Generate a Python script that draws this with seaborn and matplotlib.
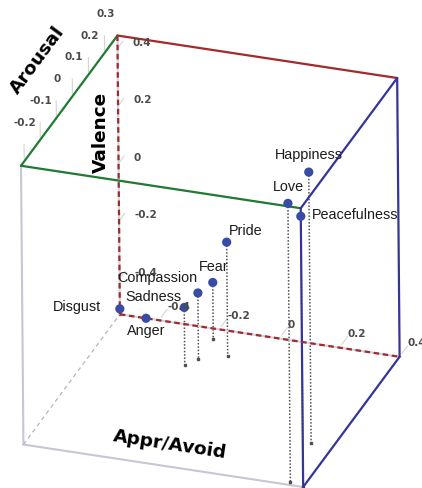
import numpy as np
import matplotlib
matplotlib.use("Agg")
import matplotlib.pyplot as plt
import matplotlib.transforms as mtransforms
import seaborn as sns
from mpl_toolkits.mplot3d import proj3d

# Emotion coordinates in the three-dimensional affect space
emotions = ["Happiness", "Love", "Peacefulness", "Pride", "Fear",
            "Compassion", "Sadness", "Disgust", "Anger"]
appr_avoid = [0.326, 0.351, 0.400, -0.115, -0.196, -0.196, -0.224, -0.530, -0.443]
arousal = [-0.032, -0.208, -0.220, 0.274, 0.336, 0.244, 0.211, 0.380, 0.380]
valence = [0.417, 0.445, 0.417, -0.128, -0.328, -0.295, -0.325, -0.506, -0.525]

appr_ticks = [-0.4, -0.2, 0, 0.2, 0.4]
arousal_ticks = [-0.2, -0.1, 0, 0.1, 0.2, 0.3]
valence_ticks = [-0.4, -0.2, 0, 0.2, 0.4]

# label placement next to each marker: (ha, va, dx_pt, dy_pt)
label_place = {
    "Happiness": ("center", "center", 0.0, 12.2),
    "Love": ("center", "center", 0.5, 12.0),
    "Peacefulness": ("left", "center", 7.7, 0.7),
    "Pride": ("left", "center", 1.9, 8.1),
    "Fear": ("center", "center", 0.7, 11.1),
    "Compassion": ("right", "center", -0.7, 10.8),
    "Sadness": ("right", "center", -1.9, 7.9),
    "Disgust": ("right", "center", -13.2, 1.4),
    "Anger": ("center", "center", 0.0, -8.9),
}

sns.set_theme(style="white")
plt.rcParams["font.family"] = ["Liberation Sans", "DejaVu Sans"]
plt.rcParams["lines.scale_dashes"] = False

W, H = 422, 488
fig = plt.figure(figsize=(W / 100, H / 100), dpi=100)
fig.patch.set_facecolor("white")
ax = fig.add_axes([0, 0, 1, 1], projection="3d", computed_zorder=False)
ax.set_proj_type("ortho")
ax.view_init(elev=27.5, azim=-70.8, roll=0.5)
ax.set_box_aspect((296.1, 297.0, 314.6))
ax.set_axis_off()

x0, x1 = min(appr_avoid), max(appr_avoid)
y0, y1 = min(arousal), max(arousal)
z0, z1 = min(valence), max(valence)

A, B = (x0, y1, z1), (x1, y1, z1)
C, F = (x0, y0, z1), (x1, y0, z1)
D, E = (x0, y1, z0), (x1, y1, z0)
Hc, G = (x0, y0, z0), (x1, y0, z0)


def edge(p, q, **kw):
    ax.plot([p[0], q[0]], [p[1], q[1]], [p[2], q[2]],
            solid_capstyle="round", **kw)


def shifted(dx, dy):
    return mtransforms.offset_copy(ax.transData, fig=fig, x=dx, y=dy, units="points")


# texts are anchored at 3D points and laid out once the view is fixed
texts = []


def text3d(pos, s, dx=0.0, dy=0.0, along=None, **kw):
    texts.append((pos, s, dx, dy, along, kw))


RED, GREEN, BLUE = "#a32a2a", "#1f7a32", "#34349c"
GREY = "#c6c6d4"

# box edges
edge(C, Hc, color=GREY, lw=1.5, zorder=1)
edge(Hc, G, color=GREY, lw=1.5, zorder=1)
edge(Hc, D, color="#b4b4c4", lw=0.9, linestyle=(0, (3, 2.5)), zorder=1)
for p, q in [(A, D), (D, E)]:
    edge(p, q, color="#d2d2e2", lw=1.5, zorder=2)
    edge(p, q, color=RED, lw=1.6, linestyle=(0, (4, 2.6)), zorder=2.1)
edge(A, B, color=RED, lw=1.6, zorder=2)
edge(A, C, color=GREEN, lw=1.6, zorder=2)
edge(C, F, color=GREEN, lw=1.6, zorder=2)
for p, q in [(B, F), (B, E), (F, G), (E, G)]:
    edge(p, q, color=BLUE, lw=1.6, zorder=2)

# tick marks and tick labels
tick_kw = dict(color="#d4d4d4", lw=0.8, zorder=1)
lab_kw = dict(fontsize=7.5, fontweight="bold", color="#4a4a4a",
              family="DejaVu Sans", zorder=5)
for t in valence_ticks:
    edge((x0, y1, t), (x0, y1 + 0.035, t), **tick_kw)
    text3d((x0, y1, t), f"{t:g}", 10.8, 4.0, ha="left", va="center", **lab_kw)
for t in appr_ticks:
    edge((t, y1 + 0.015, z0), (t, y1 + 0.05, z0), **tick_kw)
    text3d((t, y1, z0), f"{t:g}", 5.8, 9.7, ha="left", va="center", **lab_kw)
for t in arousal_ticks:
    edge((x0, t, z1 + 0.01), (x0, t, z1 + 0.06), **tick_kw)
    text3d((x0, t, z1), f"{t:g}", 0.7, 28.0, ha="center", va="center", **lab_kw)

# axis titles, each one running along its own axis
title_kw = dict(fontsize=13.3, fontweight="bold", color="black",
                family="DejaVu Sans", ha="center", va="center", zorder=5)
text3d((x0, y0 + 0.5856 * (y1 - y0), z1), "Arousal", -28.8, 21.3,
       along=(0, 1, 0), **title_kw)
text3d((x0, y1, z0 + 0.652 * (z1 - z0)), "Valence", -12.5, 0.0,
       along=(0, 0, 1), **title_kw)
text3d((x0 + 0.525 * (x1 - x0), y0, z0), "Appr/Avoid", 0.0, 15.8,
       along=(1, 0, 0), **title_kw)

# drop lines from each emotion to the floor of the box
for xv, yv, zv in zip(appr_avoid, arousal, valence):
    ax.plot([xv, xv], [yv, yv], [zv, z0], color="#505050", lw=1.1,
            linestyle=(0, (1.1, 1.3)), zorder=1.5)
    if zv > z0:
        ax.plot([xv], [yv], [z0], marker="s", ms=1.8, color="#505050",
                zorder=1.5)

ax.scatter(appr_avoid, arousal, valence, s=44, color="#384ca6",
           depthshade=False, edgecolors="none", zorder=4)

for name, xv, yv, zv in zip(emotions, appr_avoid, arousal, valence):
    ha, va, dx, dy = label_place[name]
    text3d((xv, yv, zv), name, dx, dy, ha=ha, va=va, fontsize=10.4,
           color="#1c1c1c", zorder=6)

ax.set_xlim(x0, x1)
ax.set_ylim(y0, y1)
ax.set_zlim(z0, z1)

# place the box so that it fills the intended region of the canvas
fig.canvas.draw()
corners = np.array([A, B, C, F, D, E, Hc, G])
px, py, _ = proj3d.proj_transform(corners[:, 0], corners[:, 1], corners[:, 2],
                                  ax.get_proj())
disp = ax.transData.transform(np.column_stack([px, py]))
bb = ax.get_position()
L, Bt, S = bb.x0 * W, bb.y0 * H, bb.width * W
left, right, top, bottom = 21, 400, 36, 487
k = 0.5 * ((right - left) / np.ptp(disp[:, 0]) + (bottom - top) / np.ptp(disp[:, 1]))
newL = left - (disp[:, 0].min() - L) * k
newB = (H - bottom) - (disp[:, 1].min() - Bt) * k
ax.set_position([newL / W, newB / H, S * k / W, S * k / H])
fig.canvas.draw()

# project the text anchors and draw them as flat texts
M = ax.get_proj()
for pos, s, dx, dy, along, kw in texts:
    p = np.asarray(pos, dtype=float)
    qx, qy, _ = proj3d.proj_transform(p[0], p[1], p[2], M)
    rot = 0.0
    if along is not None:
        p2 = p + 0.1 * np.asarray(along, dtype=float)
        rx, ry, _ = proj3d.proj_transform(p2[0], p2[1], p2[2], M)
        a, b = ax.transData.transform([[qx, qy], [rx, ry]])
        rot = np.degrees(np.arctan2(b[1] - a[1], b[0] - a[0]))
        if along == (0, 0, 1):
            rot = 90.0
    ax.text2D(float(qx), float(qy), s, rotation=rot,
              transform=shifted(dx, dy), **kw)

fig.savefig("out.png", dpi=100, facecolor="white")
